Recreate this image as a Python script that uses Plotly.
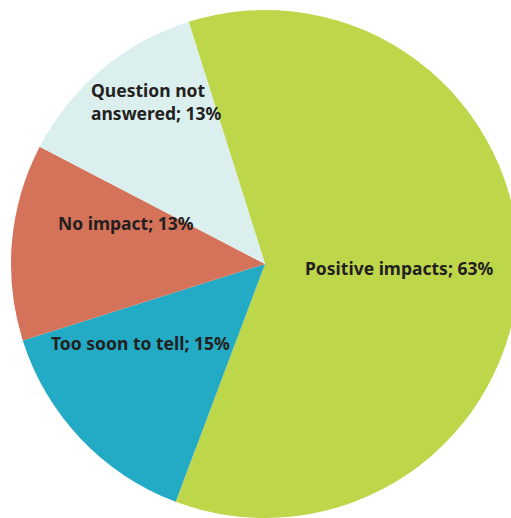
import math
import plotly.graph_objects as go

# Survey responses on observed impacts
categories = ["Positive impacts", "Too soon to tell", "No impact", "Question not answered"]
shares = [63, 15, 13, 13]
label_text = ["Positive impacts; 63%", "Too soon to tell; 15%", "No impact; 13%",
              "Question not<br>answered; 13%"]

colors = ["#BED649", "#23ABC6", "#D4735A", "#DCEFEF"]

# Canvas and pie geometry (pixels)
W, H = 531, 528
ML, MT = 11, 10
R = 254
CX, CY = ML + R, MT + R

# Label anchor placement: (clockwise angle from 12 o'clock, fraction of radius, x-anchor)
label_place = [(91.6, 0.554, "center"), (237.7, 0.604, "center"),
               (286.6, 0.594, "center"), (312.5, 0.982, "left")]

fig = go.Figure(go.Pie(
    labels=categories,
    values=shares,
    sort=False,
    direction="clockwise",
    rotation=-17.5,
    marker=dict(colors=colors, line=dict(width=0)),
    textinfo="none",
    hoverinfo="label+value",
    showlegend=False,
    domain=dict(x=[0, 1], y=[0, 1]),
))

font = dict(family="'Noto Sans', Lato, sans-serif", size=17.5, color="#231F20", weight="bold")
for text, (ang, frac, xa) in zip(label_text, label_place):
    a = math.radians(ang)
    px = CX + R * frac * math.sin(a)
    py = CY - R * frac * math.cos(a)
    fig.add_annotation(
        x=px / W, y=1 - py / H, xref="paper", yref="paper",
        text=text, showarrow=False, align="left",
        xanchor=xa, yanchor="middle", font=font,
    )

fig.update_layout(
    width=W, height=H,
    margin=dict(l=ML, r=W - ML - 2 * R, t=MT, b=H - MT - 2 * R, pad=0),
    paper_bgcolor="white",
    plot_bgcolor="white",
)

fig.write_html(
    "out.html",
    config={"displayModeBar": False},
    post_script="document.documentElement.style.overflow='hidden';document.body.style.overflow='hidden';",
)
